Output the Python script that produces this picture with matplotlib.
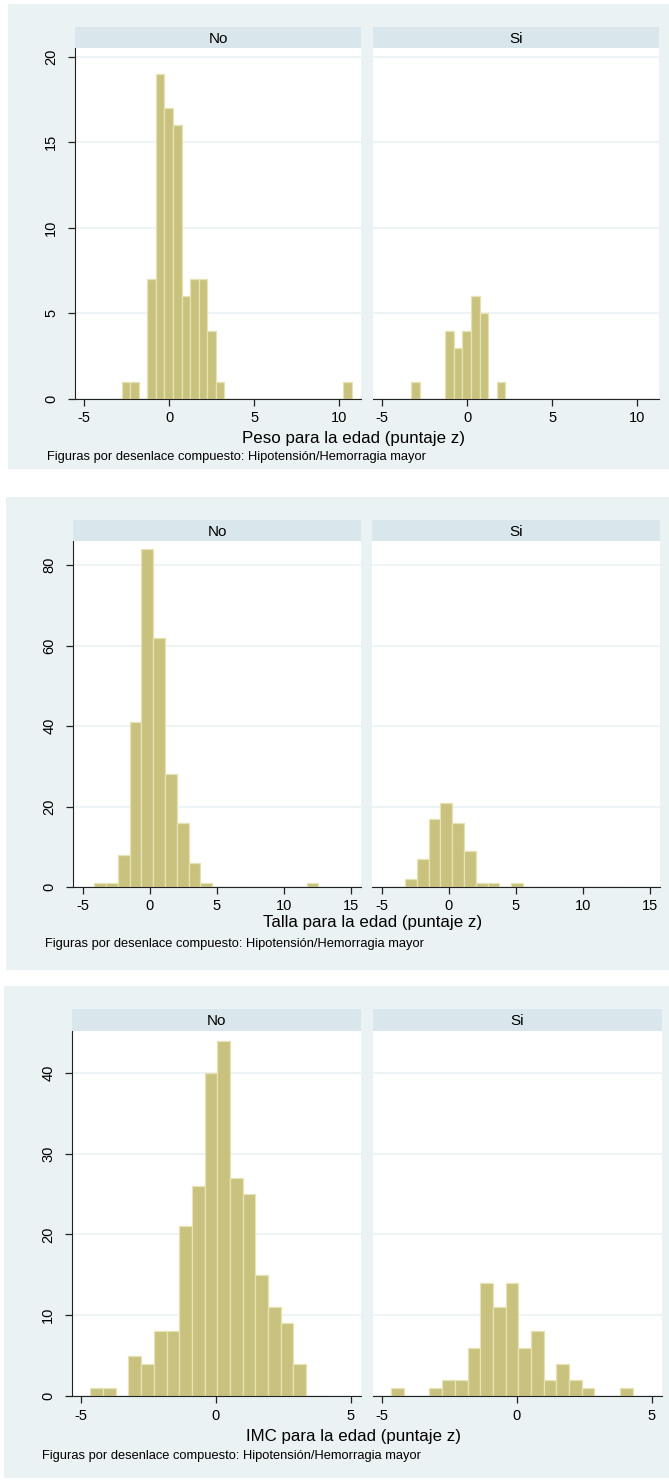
import numpy as np
import matplotlib.pyplot as plt
from matplotlib.patches import Rectangle

# ---------------- data ----------------
groups = ["No", "Si"]
note = "Figuras por desenlace compuesto: Hipotensión/Hemorragia mayor"

peso_title = "Peso para la edad (puntaje z)"
peso_start = -3.27
peso_width = 0.5
peso_no = [0, 1, 1, 0, 7, 19, 17, 16, 6, 7, 7, 4, 1, 0,
           0, 0, 0, 0, 0, 0, 0, 0, 0, 0, 0, 0, 0, 1]
peso_si = [1, 0, 0, 0, 4, 3, 4, 6, 5, 0, 1, 0, 0, 0,
           0, 0, 0, 0, 0, 0, 0, 0, 0, 0, 0, 0, 0, 0]
peso_xticks = [-5, 0, 5, 10]
peso_yticks = [0, 5, 10, 15, 20]

talla_title = "Talla para la edad (puntaje z)"
talla_start = -4.14
talla_width = 0.88
talla_no = [1, 1, 8, 41, 84, 62, 28, 16, 6, 1, 0, 0, 0, 0, 0, 0, 0, 0, 1]
talla_si = [0, 2, 7, 17, 21, 16, 9, 1, 1, 0, 1, 0, 0, 0, 0, 0, 0, 0, 0]
talla_xticks = [-5, 0, 5, 10, 15]
talla_yticks = [0, 20, 40, 60, 80]

imc_title = "IMC para la edad (puntaje z)"
imc_start = -4.65
imc_width = 0.47
imc_no = [1, 1, 0, 5, 4, 8, 8, 21, 26, 40, 44, 27, 25, 15, 11, 9, 4, 0, 0]
imc_si = [1, 0, 0, 1, 2, 2, 6, 14, 11, 14, 6, 8, 2, 4, 2, 1, 0, 0, 1]
imc_xticks = [-5, 0, 5]
imc_yticks = [0, 10, 20, 30, 40]

# ---------------- style ----------------
W, H = 669, 1481
BG = "#EAF2F3"
STRIP = "#D9E6EB"
BAR = "#C9C27F"
EDGE = "#E6E2B4"
GRID = "#EAF2F3"
AXC = "#222222"

plt.rcParams["font.family"] = ["Liberation Sans", "DejaVu Sans"]
plt.rcParams["axes.unicode_minus"] = False

fig = plt.figure(figsize=(W / 100, H / 100), dpi=100, facecolor="white")


def add_ax(x0, y0, x1, y1):
    # pixel box, y measured from the top of the image
    return fig.add_axes([x0 / W, 1 - y1 / H, (x1 - x0) / W, (y1 - y0) / H])


def panel(bg, strip_y, plot_y, cols, xlim, ylim, start, width, counts,
          xticks, yticks, title, title_xy, note_xy):
    fig.patches.append(Rectangle((bg[0] / W, 1 - bg[3] / H), (bg[2] - bg[0]) / W,
                                 (bg[3] - bg[1]) / H, transform=fig.transFigure,
                                 facecolor=BG, edgecolor="none", zorder=-10))
    for i, (name, cnt) in enumerate(zip(groups, counts)):
        x0, x1 = cols[i]
        st = add_ax(x0, strip_y[0], x1, strip_y[1])
        st.set_facecolor(STRIP)
        st.set_xticks([])
        st.set_yticks([])
        for s in st.spines.values():
            s.set_visible(False)
        st.text(0.5, 0.45, name, ha="center", va="center", fontsize=11,
                transform=st.transAxes)

        ax = add_ax(x0, plot_y[0], x1, plot_y[1])
        ax.set_facecolor("white")
        edges = start + width * np.arange(len(cnt))
        ax.bar(edges, cnt, width=width, align="edge", color=BAR,
               edgecolor=EDGE, linewidth=0.9, zorder=2)
        ax.set_xlim(*xlim)
        ax.set_ylim(*ylim)
        ax.set_xticks(xticks)
        ax.set_yticks(yticks)
        ax.yaxis.grid(True, color=GRID, linewidth=1.2, zorder=1)
        ax.set_axisbelow(True)
        ax.spines["top"].set_visible(False)
        ax.spines["right"].set_visible(False)
        ax.spines["bottom"].set_color(AXC)
        ax.tick_params(axis="x", direction="out", length=5, width=0.9,
                       color=AXC, labelsize=10.5, pad=4)
        if i == 0:
            ax.spines["left"].set_color(AXC)
            ax.tick_params(axis="y", direction="out", length=5, width=0.9,
                           color=AXC, labelsize=10.5, pad=7)
            for lab in ax.get_yticklabels():
                lab.set_rotation(90)
                lab.set_va("center")
        else:
            ax.spines["left"].set_visible(False)
            ax.tick_params(axis="y", left=False, labelleft=False)

    fig.text(title_xy[0] / W, 1 - title_xy[1] / H, title, ha="center",
             va="center", fontsize=12.2)
    fig.text(note_xy[0] / W, 1 - note_xy[1] / H, note, ha="left",
             va="center", fontsize=9.3)


panel((8, 4, 669, 469), (27, 48), (48, 399), [(75, 361), (373, 659)],
      (-5.53, 11.28), (0, 20.5), peso_start, peso_width, [peso_no, peso_si],
      peso_xticks, peso_yticks, peso_title, (354, 439), (47, 457))

panel((6, 497, 669, 970), (520, 541), (541, 887), [(73, 361), (372, 660)],
      (-5.72, 15.75), (0, 86), talla_start, talla_width, [talla_no, talla_si],
      talla_xticks, talla_yticks, talla_title, (373, 923), (45, 944))

panel((4, 986, 669, 1478), (1009, 1031), (1031, 1396), [(72, 361), (373, 662)],
      (-5.33, 5.37), (0, 45.2), imc_start, imc_width, [imc_no, imc_si],
      imc_xticks, imc_yticks, imc_title, (353, 1437), (42, 1456))

fig.savefig("out.png", dpi=100, facecolor="white")
